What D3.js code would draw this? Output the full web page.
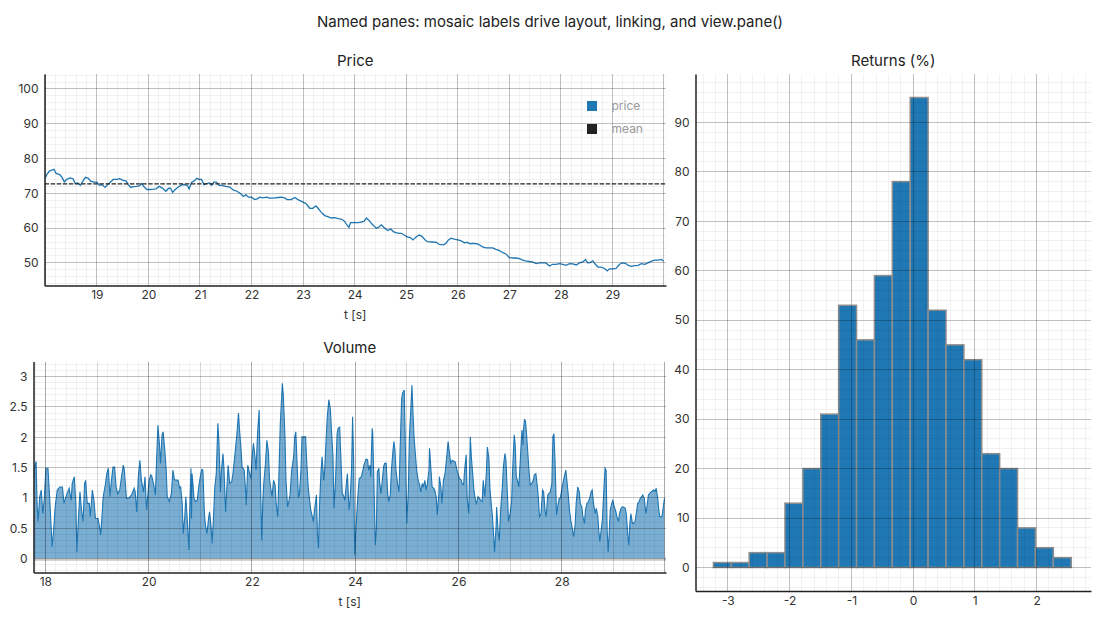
<!DOCTYPE html>
<html>
<head>
<meta charset="utf-8">
<script src="https://cdn.jsdelivr.net/npm/d3@7"></script>
<style>
  body { margin: 0; background: #fff; }
  svg { font-family: Inter, "Noto Sans", sans-serif; }
</style>
</head>
<body>
<div id="chart"></div>
<script>
// ---- data ----

// price: [t (s), price]
const priceSeries = [
  [18.00,74.4],[18.03,75.4],[18.08,76.4],[18.13,76.7],[18.17,76.9],[18.21,75.7],[18.28,75.4],[18.32,74.7],
  [18.37,73.3],[18.42,74.0],[18.48,74.4],[18.54,74.2],[18.58,72.8],[18.63,73.0],[18.68,72.3],[18.73,73.5],
  [18.78,74.6],[18.83,74.4],[18.88,73.5],[18.94,73.2],[19.00,73.2],[19.05,72.3],[19.10,72.5],[19.16,71.7],
  [19.21,72.5],[19.26,73.2],[19.32,74.0],[19.39,74.0],[19.44,74.2],[19.50,73.8],[19.57,73.5],[19.61,72.5],
  [19.66,71.7],[19.71,71.9],[19.77,72.0],[19.83,72.2],[19.87,72.8],[19.92,71.8],[19.97,71.1],[20.03,71.1],
  [20.10,71.2],[20.15,71.3],[20.21,72.0],[20.27,71.5],[20.34,70.6],[20.39,71.4],[20.43,71.5],[20.47,70.3],
  [20.52,71.1],[20.58,71.8],[20.65,72.4],[20.71,72.5],[20.76,72.2],[20.79,71.3],[20.84,73.2],[20.88,73.5],
  [20.94,74.3],[20.98,74.0],[21.03,74.0],[21.08,72.5],[21.13,72.8],[21.18,73.0],[21.23,72.3],[21.27,73.2],
  [21.32,73.2],[21.37,72.3],[21.42,72.3],[21.50,72.0],[21.58,71.8],[21.65,70.9],[21.72,70.6],[21.79,69.9],
  [21.84,69.1],[21.89,69.6],[21.94,68.9],[22.00,68.9],[22.06,68.2],[22.11,68.4],[22.16,68.9],[22.23,68.7],
  [22.29,68.9],[22.35,68.6],[22.41,68.6],[22.46,68.7],[22.52,68.8],[22.58,68.9],[22.65,68.6],[22.69,68.2],
  [22.77,68.2],[22.84,68.8],[22.90,68.2],[22.97,67.7],[23.01,67.4],[23.06,67.0],[23.13,65.7],[23.19,65.7],
  [23.25,66.4],[23.29,65.7],[23.35,64.6],[23.42,63.6],[23.48,63.3],[23.55,62.9],[23.61,63.0],[23.68,62.7],
  [23.74,62.6],[23.81,61.9],[23.85,60.9],[23.89,60.2],[23.92,61.6],[23.99,61.6],[24.08,61.6],[24.18,61.9],
  [24.23,62.9],[24.28,62.2],[24.34,61.1],[24.42,60.0],[24.46,60.2],[24.52,60.9],[24.57,60.2],[24.64,59.3],
  [24.70,59.7],[24.75,59.0],[24.80,58.7],[24.86,58.5],[24.91,58.5],[24.96,58.0],[25.02,57.5],[25.09,57.2],
  [25.13,56.6],[25.20,57.5],[25.25,58.0],[25.30,57.7],[25.37,56.6],[25.41,56.1],[25.51,56.0],[25.59,55.9],
  [25.64,55.3],[25.72,55.2],[25.77,55.6],[25.82,56.6],[25.87,57.1],[25.93,56.8],[26.00,56.6],[26.06,56.4],
  [26.13,55.8],[26.19,55.9],[26.24,55.5],[26.29,55.6],[26.37,55.5],[26.42,55.2],[26.48,54.6],[26.55,54.3],
  [26.61,54.3],[26.68,54.3],[26.74,53.9],[26.81,53.5],[26.87,53.0],[26.94,52.5],[27.00,51.5],[27.07,51.4],
  [27.13,51.4],[27.20,51.2],[27.26,50.8],[27.32,50.6],[27.39,50.4],[27.45,50.3],[27.52,49.8],[27.58,50.0],
  [27.65,50.0],[27.71,50.0],[27.78,49.1],[27.84,49.6],[27.91,49.6],[27.97,49.8],[28.04,49.6],[28.10,49.3],
  [28.17,49.8],[28.23,49.7],[28.30,49.4],[28.36,50.0],[28.43,50.3],[28.48,51.0],[28.52,50.0],[28.57,50.1],
  [28.62,50.6],[28.67,49.6],[28.72,48.8],[28.78,48.8],[28.85,48.4],[28.90,47.7],[28.94,48.3],[29.01,48.3],
  [29.07,48.4],[29.14,49.6],[29.19,50.0],[29.26,49.8],[29.31,49.3],[29.37,49.0],[29.43,49.2],[29.50,49.3],
  [29.56,49.8],[29.63,49.6],[29.69,50.0],[29.76,50.5],[29.82,50.8],[29.89,50.8],[29.95,51.0],[29.99,50.5]
];
const meanPrice = 72.7;

// volume: [t (s), volume]
const volumeSeries = [
  [17.77,1.32],[17.79,1.51],[17.82,1.60],[17.84,0.88],[17.86,0.61],[17.89,1.02],[17.92,1.13],[17.95,0.74],
  [17.98,0.99],[18.01,1.49],[18.05,1.49],[18.08,1.05],[18.11,0.55],[18.13,0.19],[18.16,0.47],[18.19,0.85],
  [18.23,1.13],[18.28,1.18],[18.33,1.18],[18.36,0.91],[18.41,1.05],[18.46,1.16],[18.50,0.96],[18.52,1.24],
  [18.56,1.35],[18.59,0.91],[18.61,0.11],[18.64,0.66],[18.67,1.10],[18.70,0.80],[18.73,0.61],[18.76,1.24],
  [18.78,1.29],[18.81,0.91],[18.85,0.91],[18.87,0.69],[18.91,1.13],[18.94,0.96],[18.97,0.66],[19.02,0.66],
  [19.06,0.47],[19.07,0.39],[19.09,0.61],[19.12,1.02],[19.16,1.21],[19.19,1.40],[19.22,1.49],[19.25,1.02],
  [19.28,1.29],[19.31,1.51],[19.34,1.51],[19.37,1.18],[19.40,1.07],[19.44,1.13],[19.48,1.38],[19.51,1.54],
  [19.53,1.46],[19.57,0.99],[19.62,1.00],[19.67,1.05],[19.72,1.16],[19.74,1.10],[19.77,0.77],[19.80,1.35],
  [19.83,1.62],[19.86,1.29],[19.90,1.10],[19.93,1.35],[19.96,0.80],[19.99,1.10],[20.01,1.29],[20.04,1.38],
  [20.06,1.36],[20.10,1.21],[20.13,1.05],[20.16,1.76],[20.18,2.20],[20.21,1.87],[20.23,1.57],[20.26,2.04],
  [20.28,2.09],[20.31,1.82],[20.34,1.46],[20.36,1.02],[20.40,0.94],[20.44,1.07],[20.47,1.46],[20.50,1.30],
  [20.57,1.29],[20.60,1.16],[20.62,1.18],[20.65,0.91],[20.67,0.41],[20.70,0.69],[20.72,1.02],[20.75,0.61],
  [20.78,0.14],[20.80,0.91],[20.82,1.49],[20.83,0.66],[20.84,1.40],[20.86,1.21],[20.88,0.99],[20.91,0.94],
  [20.94,0.96],[20.97,1.18],[21.00,1.35],[21.03,1.47],[21.05,1.46],[21.08,0.74],[21.10,0.55],[21.13,0.41],
  [21.16,0.66],[21.18,0.77],[21.21,0.52],[21.23,0.25],[21.26,0.74],[21.28,1.16],[21.31,1.40],[21.34,2.23],
  [21.36,1.95],[21.39,1.10],[21.41,1.46],[21.44,1.73],[21.46,1.46],[21.49,0.77],[21.52,1.24],[21.54,1.54],
  [21.57,1.24],[21.61,1.27],[21.63,1.38],[21.66,1.62],[21.68,1.79],[21.71,2.06],[21.74,2.40],[21.76,2.12],
  [21.79,1.79],[21.81,1.51],[21.85,1.46],[21.88,1.10],[21.89,0.88],[21.92,1.54],[21.94,1.46],[21.98,1.32],
  [22.01,1.73],[22.03,1.90],[22.06,1.68],[22.08,1.46],[22.11,2.06],[22.14,2.45],[22.16,1.51],[22.19,0.30],
  [22.21,0.91],[22.23,1.24],[22.26,1.54],[22.29,1.95],[22.32,1.76],[22.34,1.32],[22.37,1.13],[22.39,1.02],
  [22.42,1.29],[22.45,1.21],[22.47,0.91],[22.50,0.69],[22.52,1.29],[22.55,2.23],[22.57,2.56],[22.59,2.89],
  [22.61,2.67],[22.64,2.01],[22.66,1.29],[22.69,0.85],[22.72,0.96],[22.74,1.05],[22.77,1.46],[22.81,1.68],
  [22.83,2.01],[22.85,2.09],[22.87,1.68],[22.90,1.02],[22.92,1.05],[22.95,1.46],[22.97,2.01],[23.00,2.01],
  [23.04,2.01],[23.06,1.62],[23.09,1.18],[23.12,0.94],[23.14,0.80],[23.17,0.69],[23.19,0.61],[23.22,0.85],
  [23.25,1.05],[23.27,0.39],[23.29,0.17],[23.31,0.88],[23.34,1.46],[23.36,1.68],[23.39,1.29],[23.41,1.46],
  [23.44,2.01],[23.46,2.34],[23.49,2.62],[23.52,2.45],[23.54,2.12],[23.57,1.68],[23.59,0.83],[23.62,1.29],
  [23.65,2.06],[23.67,2.15],[23.70,2.17],[23.72,1.73],[23.75,1.07],[23.77,1.05],[23.80,0.96],[23.83,1.24],
  [23.85,1.40],[23.88,0.80],[23.90,0.94],[23.93,1.46],[23.95,2.34],[23.97,1.62],[23.99,0.06],[24.01,0.41],
  [24.03,0.72],[24.06,1.13],[24.08,1.32],[24.12,1.35],[24.15,1.46],[24.17,1.54],[24.21,1.64],[24.24,1.63],
  [24.26,1.46],[24.29,1.54],[24.30,1.35],[24.33,2.15],[24.34,2.06],[24.36,1.35],[24.38,0.58],[24.39,0.22],
  [24.41,0.47],[24.43,1.43],[24.46,1.49],[24.47,1.29],[24.50,1.07],[24.52,1.24],[24.55,1.51],[24.57,1.57],
  [24.60,1.57],[24.63,1.07],[24.65,0.94],[24.68,1.05],[24.70,1.43],[24.73,1.76],[24.75,1.93],[24.77,1.79],
  [24.79,1.46],[24.82,1.24],[24.85,1.10],[24.87,1.79],[24.90,2.64],[24.92,2.73],[24.95,2.78],[24.97,1.93],
  [25.00,0.58],[25.03,1.13],[25.05,2.01],[25.08,2.51],[25.10,2.86],[25.12,2.40],[25.14,2.01],[25.17,1.68],
  [25.19,1.46],[25.22,1.29],[25.25,1.21],[25.27,1.10],[25.30,1.24],[25.32,1.18],[25.35,1.29],[25.37,1.13],
  [25.40,1.24],[25.43,1.46],[25.44,1.82],[25.46,1.57],[25.49,1.18],[25.52,1.16],[25.54,1.13],[25.57,1.02],
  [25.59,0.72],[25.62,1.05],[25.63,1.35],[25.66,1.18],[25.68,0.91],[25.71,1.29],[25.74,1.40],[25.77,1.65],
  [25.80,1.93],[25.83,1.71],[25.85,1.57],[25.88,1.62],[25.92,1.60],[25.94,1.59],[25.97,1.46],[25.99,1.40],
  [26.02,1.32],[26.05,1.30],[26.07,1.24],[26.10,1.22],[26.12,1.46],[26.15,1.71],[26.17,0.99],[26.20,0.74],
  [26.23,2.01],[26.25,1.68],[26.28,1.35],[26.30,1.13],[26.33,0.96],[26.35,0.91],[26.38,1.02],[26.41,0.99],
  [26.43,0.96],[26.46,0.94],[26.48,1.29],[26.51,1.02],[26.54,1.40],[26.56,1.84],[26.59,1.65],[26.61,1.16],
  [26.64,0.85],[26.66,0.69],[26.69,0.25],[26.70,0.11],[26.73,0.55],[26.74,0.85],[26.77,0.41],[26.79,0.30],
  [26.82,0.83],[26.85,1.18],[26.87,1.51],[26.90,1.73],[26.92,1.62],[26.95,1.02],[26.97,0.61],[27.00,0.74],
  [27.03,0.94],[27.05,1.46],[27.08,2.04],[27.10,1.87],[27.12,1.35],[27.15,1.27],[27.17,1.18],[27.20,1.65],
  [27.23,2.12],[27.25,1.87],[27.26,2.12],[27.28,2.30],[27.30,2.26],[27.32,2.04],[27.34,1.79],[27.37,1.40],
  [27.39,1.21],[27.42,1.24],[27.45,1.29],[27.47,1.38],[27.50,1.40],[27.53,1.18],[27.55,0.96],[27.57,0.69],
  [27.60,0.74],[27.63,1.13],[27.65,1.10],[27.68,0.77],[27.70,0.69],[27.73,1.05],[27.75,1.07],[27.78,1.10],
  [27.81,1.24],[27.83,2.01],[27.85,2.06],[27.87,1.62],[27.90,0.72],[27.92,0.85],[27.95,0.99],[27.97,0.99],
  [28.00,1.13],[28.03,1.27],[28.05,1.35],[28.08,1.46],[28.10,1.29],[28.13,1.02],[28.15,0.80],[28.18,0.61],
  [28.21,0.47],[28.23,0.36],[28.26,0.55],[28.28,0.91],[28.31,1.18],[28.34,1.10],[28.36,0.91],[28.39,0.85],
  [28.41,0.69],[28.44,0.58],[28.46,0.80],[28.49,0.91],[28.52,0.94],[28.54,0.99],[28.57,1.10],[28.59,1.13],
  [28.62,0.88],[28.65,0.74],[28.67,0.83],[28.70,0.69],[28.72,0.44],[28.74,0.28],[28.76,0.44],[28.79,0.66],
  [28.81,1.02],[28.84,1.49],[28.86,1.46],[28.88,0.47],[28.90,0.11],[28.92,0.41],[28.94,0.80],[28.97,0.91],
  [28.99,0.96],[29.02,0.85],[29.05,0.77],[29.07,0.69],[29.10,0.61],[29.12,0.74],[29.15,0.83],[29.17,0.85],
  [29.20,0.85],[29.23,0.83],[29.25,0.74],[29.28,0.39],[29.30,0.22],[29.32,0.58],[29.34,0.74],[29.37,0.58],
  [29.39,0.58],[29.42,0.61],[29.45,0.77],[29.47,0.91],[29.50,0.94],[29.52,0.99],[29.55,1.02],[29.57,1.05],
  [29.60,0.99],[29.63,0.74],[29.65,0.85],[29.68,1.05],[29.70,1.07],[29.73,1.10],[29.75,1.11],[29.78,1.13],
  [29.81,1.11],[29.83,1.16],[29.86,0.99],[29.88,0.80],[29.90,0.69],[29.94,0.69],[29.96,0.80],[29.99,0.99]
];

// returns histogram
const returnCounts = [1, 1, 3, 3, 13, 20, 31, 53, 46, 59, 78, 95, 52, 45, 42, 23, 20, 8, 4, 2];
const returnBinStart = -3.234;
const returnBinWidth = 0.2898;

// ticks
const priceTicksX = [19, 20, 21, 22, 23, 24, 25, 26, 27, 28, 29];
const priceTicksY = [50, 60, 70, 80, 90, 100];
const volumeTicksX = [18, 20, 22, 24, 26, 28];
const volumeTicksY = [0, 0.5, 1, 1.5, 2, 2.5, 3];
const returnTicksX = [-3, -2, -1, 0, 1, 2];
const returnTicksY = [0, 10, 20, 30, 40, 50, 60, 70, 80, 90];

const blue = "#1f77b4";

const svg = d3.select("#chart").append("svg")
  .attr("width", 1100)
  .attr("height", 620);

svg.append("text")
  .attr("x", 550).attr("y", 27)
  .attr("text-anchor", "middle")
  .attr("font-size", 15)
  .attr("fill", "#222")
  .text("Named panes: mosaic labels drive layout, linking, and view.pane()");

// multiples of step inside a domain
function steps(domain, step) {
  const a = Math.ceil(domain[0] / step - 1e-9), b = Math.floor(domain[1] / step + 1e-9);
  return d3.range(a, b + 1).map(k => +(k * step).toFixed(6));
}

function makePane(o) {
  const x = d3.scaleLinear().domain(o.xDomain).range([o.left, o.right]);
  const y = d3.scaleLinear().domain(o.yDomain).range([o.bottom, o.top]);
  const g = svg.append("g");
  const clipId = "clip-" + o.name;
  g.append("clipPath").attr("id", clipId)
    .append("rect")
      .attr("x", o.left).attr("y", o.top)
      .attr("width", o.right - o.left).attr("height", o.bottom - o.top);
  const marks = g.append("g").attr("clip-path", `url(#${clipId})`);
  return {o, x, y, g, marks};
}

function finishPane(p) {
  const {o, x, y, g} = p;
  const grid = g.append("g").attr("fill", "none");

  const vline = (vals, op) => grid.append("g").selectAll("line").data(vals).enter().append("line")
    .attr("x1", d => x(d)).attr("x2", d => x(d))
    .attr("y1", o.top).attr("y2", o.bottom)
    .attr("stroke", "#000").attr("stroke-opacity", op).attr("shape-rendering", "crispEdges");
  const hline = (vals, op) => grid.append("g").selectAll("line").data(vals).enter().append("line")
    .attr("y1", d => y(d)).attr("y2", d => y(d))
    .attr("x1", o.left).attr("x2", o.right)
    .attr("stroke", "#000").attr("stroke-opacity", op).attr("shape-rendering", "crispEdges");

  vline(steps(o.xDomain, o.xMinor), 0.05);
  hline(steps(o.yDomain, o.yMinor), 0.05);
  if (o.xMid) vline(steps(o.xDomain, o.xMid), 0.11);
  vline(steps(o.xDomain, o.xMajor), 0.2);
  hline(steps(o.yDomain, o.yMajor), 0.2);

  const styleAxis = a => {
    a.attr("font-family", null).attr("font-size", null);
    a.select(".domain").attr("stroke", "#222").attr("stroke-width", 1.5);
    a.selectAll("text").attr("font-size", 12).attr("fill", "#333");
  };

  // y axis
  g.append("g")
    .attr("transform", `translate(${o.left},0)`)
    .call(d3.axisLeft(y).tickValues(o.yTicks).tickSize(0).tickPadding(6).tickFormat(d => String(d)))
    .call(styleAxis);

  // x axis
  g.append("g")
    .attr("transform", `translate(0,${o.bottom})`)
    .call(d3.axisBottom(x).tickValues(o.xTicks).tickSize(0).tickPadding(5).tickFormat(d => String(d)))
    .call(styleAxis);

  g.append("text")
    .attr("x", (o.left + o.right) / 2).attr("y", o.titleY)
    .attr("text-anchor", "middle").attr("font-size", 15).attr("fill", "#222")
    .text(o.title);

  if (o.xLabel) {
    g.append("text")
      .attr("x", (o.left + o.right) / 2).attr("y", o.bottom + 33)
      .attr("text-anchor", "middle").attr("font-size", 12).attr("fill", "#333")
      .text(o.xLabel);
  }
}

// ---- Price ----
const price = makePane({
  name: "price", left: 44.5, right: 666, top: 74, bottom: 285.5,
  xDomain: [17.985, 30.04], yDomain: [43.5, 104.3],
  xMajor: 1, xMinor: 0.2, yMajor: 10, yMinor: 2,
  xTicks: priceTicksX, yTicks: priceTicksY,
  title: "Price", titleY: 66, xLabel: "t [s]"
});

price.marks.append("path")
  .datum(priceSeries)
  .attr("fill", "none")
  .attr("stroke", blue)
  .attr("stroke-width", 1.3)
  .attr("d", d3.line().x(d => price.x(d[0])).y(d => price.y(d[1])));

price.marks.append("line")
  .attr("x1", price.x.range()[0]).attr("x2", price.x.range()[1])
  .attr("y1", price.y(meanPrice)).attr("y2", price.y(meanPrice))
  .attr("stroke", "#222").attr("stroke-width", 1.1).attr("stroke-dasharray", "4.5,1.6");

finishPane(price);

const legend = price.g.append("g").attr("transform", "translate(587,106)");
[["price", blue], ["mean", "#222"]].forEach(([name, c], i) => {
  legend.append("rect").attr("x", 0).attr("y", i * 23 - 5).attr("width", 10).attr("height", 10).attr("fill", c);
  legend.append("text").attr("x", 24.5).attr("y", i * 23).attr("dy", "0.35em")
    .attr("font-size", 12).attr("fill", "#999").text(name);
});

// ---- Volume ----
const volume = makePane({
  name: "volume", left: 33.5, right: 666, top: 361.5, bottom: 572.5,
  xDomain: [17.77, 30.02], yDomain: [-0.23, 3.25],
  xMajor: 2, xMid: 1, xMinor: 0.2, yMajor: 0.5, yMinor: 0.1,
  xTicks: volumeTicksX, yTicks: volumeTicksY,
  title: "Volume", titleY: 353, xLabel: "t [s]"
});

volume.marks.append("path")
  .datum(volumeSeries)
  .attr("fill", blue).attr("fill-opacity", 0.6)
  .attr("d", d3.area().x(d => volume.x(d[0])).y0(volume.y(0)).y1(d => volume.y(d[1])));

volume.marks.append("path")
  .datum(volumeSeries)
  .attr("fill", "none").attr("stroke", blue).attr("stroke-width", 1.1)
  .attr("d", d3.line().x(d => volume.x(d[0])).y(d => volume.y(d[1])));

volume.marks.append("line")
  .attr("x1", volume.x.range()[0]).attr("x2", volume.x.range()[1])
  .attr("y1", volume.y(0) + 1).attr("y2", volume.y(0) + 1)
  .attr("stroke", "#c8c8c8").attr("stroke-width", 2.5);

finishPane(volume);

// ---- Returns ----
const returns = makePane({
  name: "returns", left: 695.5, right: 1091, top: 74, bottom: 591,
  xDomain: [-3.524, 2.882], yDomain: [-4.75, 99.75],
  xMajor: 1, xMinor: 0.2, yMajor: 10, yMinor: 2,
  xTicks: returnTicksX, yTicks: returnTicksY,
  title: "Returns (%)", titleY: 66
});

returns.marks.selectAll("rect")
  .data(returnCounts)
  .enter()
  .append("rect")
    .attr("x", (d, i) => returns.x(returnBinStart + i * returnBinWidth))
    .attr("width", (d, i) => returns.x(returnBinStart + (i + 1) * returnBinWidth) - returns.x(returnBinStart + i * returnBinWidth))
    .attr("y", d => returns.y(d))
    .attr("height", d => returns.y(0) - returns.y(d))
    .attr("fill", blue)
    .attr("stroke", "#8e8e8e")
    .attr("stroke-width", 1.5);

finishPane(returns);
</script>
</body>
</html>
